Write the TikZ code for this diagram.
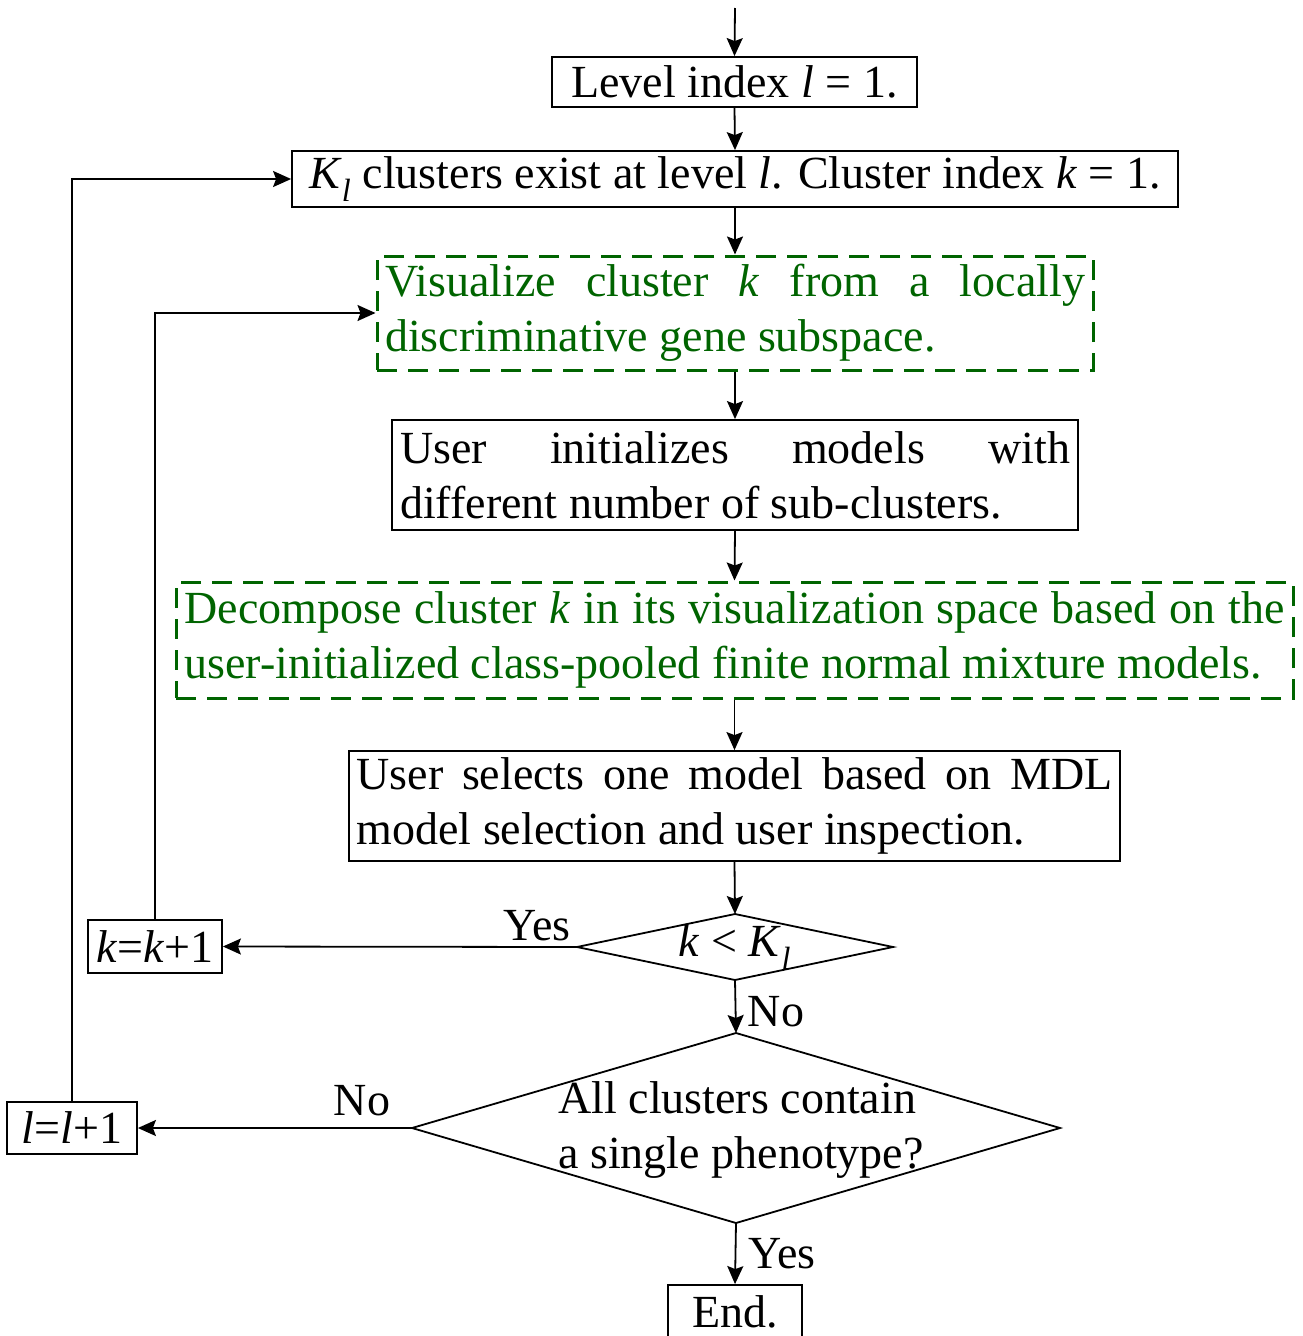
\documentclass[tikz,border=0pt]{standalone}
\usepackage{fontspec}
\setmainfont{Liberation Serif}
\usetikzlibrary{arrows.meta}
\definecolor{dgreen}{RGB}{0,100,0}
\begin{document}
\begin{tikzpicture}[x=1pt,y=-1pt,
  every node/.style={font=\fontsize{46}{55}\selectfont},
  box/.style={draw,line width=1.8pt,inner sep=0pt},
  gbox/.style={draw=dgreen,text=dgreen,line width=3pt,dash pattern=on 20pt off 11pt,inner sep=0pt,align=left},
  arr/.style={line width=1.8pt,-{Stealth[length=18pt,width=16pt,inset=3pt]}},
  lbl/.style={inner sep=0pt}]
\useasboundingbox (0,0) rectangle (1302,1336);
\coordinate (top) at (735,8);
\node[box,minimum width=365pt,minimum height=50pt] (b1) at (734.5,82) {Level index \textit{l} = 1.};
\node[box,minimum width=886pt,minimum height=56pt] (b2) at (735,179) {\textit{K}\textsubscript{\textit{l}} clusters exist at level \textit{l}. Cluster index \textit{k} = 1.};
\node[gbox,minimum width=716pt,minimum height=114pt] (b3) at (735,313) {\makebox[700pt][s]{Visualize cluster \textit{k} from a locally}\\discriminative gene subspace.};
\node[box,align=left,minimum width=686pt,minimum height=110pt] (b4) at (735,475) {\makebox[670pt][s]{User initializes models with}\\different number of sub-clusters.};
\node[gbox,minimum width=1117pt,minimum height=116pt] (b5) at (734.5,640) {\makebox[1100pt][s]{Decompose cluster \textit{k} in its visualization space based on the}\\user-initialized class-pooled finite normal mixture models.};
\node[box,align=left,minimum width=771pt,minimum height=110pt] (b6) at (734.5,806) {\makebox[756pt][s]{User selects one model based on MDL}\\model selection and user inspection.};
% diamond 1
\coordinate (d1n) at (735,914);
\coordinate (d1e) at (893,947);
\coordinate (d1s) at (735,980);
\coordinate (d1w) at (577,947);
\draw[line width=1.8pt] (d1n) -- (d1e) -- (d1s) -- (d1w) -- cycle;
\node[lbl] (d1t) at (735,947) {\textit{k} < \textit{K}\textsubscript{\textit{l}}};
% diamond 2
\coordinate (d2n) at (736,1033);
\coordinate (d2e) at (1060,1128);
\coordinate (d2s) at (736,1223);
\coordinate (d2w) at (412,1128);
\draw[line width=1.8pt] (d2n) -- (d2e) -- (d2s) -- (d2w) -- cycle;
\node[lbl,align=left] (d2t) at (741,1130) {All clusters contain\\a single phenotype?};
\node[box,minimum width=134pt,minimum height=53pt] (kb) at (155,946.5) {\textit{k}=\textit{k}+1};
\node[box,minimum width=130pt,minimum height=52pt] (lb) at (72,1128) {\textit{l}=\textit{l}+1};
\node[box,minimum width=134pt,minimum height=54pt] (end) at (735,1312) {End.};
% labels
\node[lbl] (yes1) at (537,926) {Yes};
\node[lbl] (no1) at (776,1012) {No};
\node[lbl] (no2) at (362,1101) {No};
\node[lbl] (yes2) at (782,1254) {Yes};
% connectors
\draw[arr] (top) -- (b1.north);
\draw[arr] (b1.south) -- (b2.north);
\draw[arr] (b2.south) -- (b3.north);
\draw[arr] (b3.south) -- (b4.north);
\draw[arr] (b4.south) -- (b5.north);
\draw[arr] (b5.south) -- (b6.north);
\draw[arr] (b6.south) -- (d1n);
\draw[arr] (d1w) -- (kb.east);
\draw[arr] (kb.north) |- (b3.west);
\draw[arr] (d1s) -- (d2n);
\draw[arr] (d2w) -- (lb.east);
\draw[arr] (lb.north) |- (b2.west);
\draw[arr] (d2s) -- (end.north);
\end{tikzpicture}
\end{document}
